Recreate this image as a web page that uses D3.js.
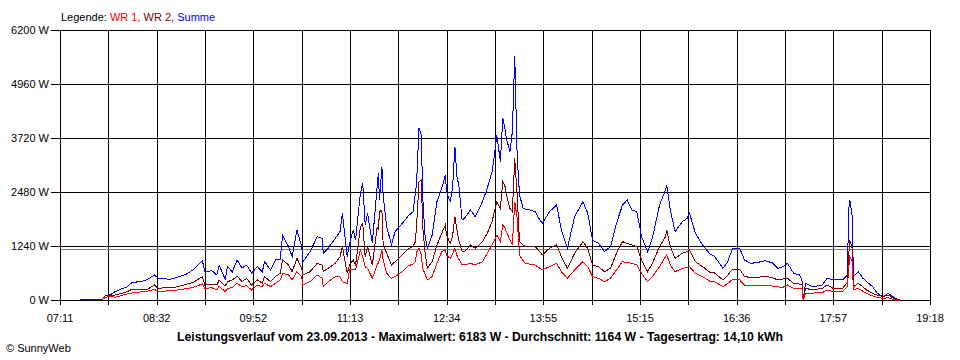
<!DOCTYPE html>
<html><head><meta charset="utf-8">
<script src="https://cdn.jsdelivr.net/npm/d3@7"></script>
<style>
body{margin:0;background:#fff}
svg{display:block}
text{font-family:"Liberation Sans",Arial,sans-serif;font-size:11px;fill:#000}
</style>
</head><body>
<svg id="c" width="960" height="360"></svg>
<script>
// ---- data ----
const times = [
"07:28","07:40","07:47","07:49","07:53","07:57","08:02","08:07","08:11","08:20",
"08:24","08:30","08:33","08:43","08:49","08:57","09:02","09:10","09:12","09:18",
"09:22","09:24","09:29","09:31","09:35","09:39","09:43","09:47","09:51","09:56",
"10:00","10:02","10:07","10:11","10:15","10:17","10:22","10:25","10:29","10:33",
"10:34","10:40","10:46","10:50","10:51","10:55","11:01","11:05","11:07","11:11",
"11:13","11:16","11:18","11:22","11:24","11:26","11:28","11:32","11:36","11:37",
"11:38","11:40","11:41","11:44","11:48","11:51","11:57","12:02","12:06","12:08",
"12:09","12:11","12:13","12:14","12:16","12:18","12:22","12:26","12:30","12:33",
"12:34","12:37","12:39","12:41","12:43","12:44","12:47","12:49","12:54","12:58",
"13:04","13:08","13:12","13:14","13:16","13:19","13:21","13:23","13:24","13:27",
"13:29","13:31","13:33","13:35","13:38","13:40","13:44","13:48","13:52","13:54",
"14:00","14:06","14:10","14:15","14:21","14:28","14:32","14:36","14:41","14:46",
"14:51","14:56","15:01","15:05","15:09","15:13","15:17","15:22","15:26","15:32",
"15:37","15:38","15:41","15:45","15:51","15:55","15:57","16:02","16:08","16:14",
"16:18","16:25","16:29","16:33","16:39","16:43","16:48","16:53","17:00","17:06",
"17:11","17:15","17:19","17:24","17:29","17:31","17:32","17:34","17:40","17:48",
"17:52","17:57","18:05","18:09","18:10","18:11","18:13","18:14","18:18","18:22",
"18:25","18:30","18:34","18:39","18:43","18:49","18:53"
];
const summe = [
15,20,20,110,120,190,250,300,400,430,
470,575,500,475,520,600,690,900,650,670,
575,800,480,765,650,920,735,800,620,765,
650,880,690,920,920,1490,1225,995,1607,1225,
880,1110,1455,1415,1070,1185,1415,1570,1990,995,
1300,1607,1378,2450,2680,1722,1990,1300,2600,2910,
2296,3060,2400,1683,1263,1570,1760,1930,2027,2450,
2716,3940,3790,2410,1490,1185,1490,2257,2565,2870,
2487,2257,2565,3520,2716,2716,1837,1875,2066,1913,
2257,2565,2946,3330,3790,3175,4170,3900,3710,3405,
3865,5600,3330,2410,2105,2080,2066,2027,1837,1760,
2027,2181,1607,1185,1913,2257,1990,1378,1300,1110,
1225,1760,2181,2296,2066,2027,1455,1110,1415,2181,
2526,2640,2066,1570,1798,1875,1990,1530,1263,1060,
1000,728,880,1185,1185,920,842,857,900,857,
728,765,842,613,575,460,0,383,306,344,
498,460,460,575,2066,2296,1913,536,650,498,
421,306,153,77,153,38,0
];
const wr2 = [
null,null,30,100,110,115,150,190,245,250,
245,344,268,291,300,367,400,536,344,360,
344,460,321,420,460,551,421,498,344,460,
383,536,421,536,613,920,804,650,957,728,
574,650,842,800,650,728,842,995,1225,613,
804,920,804,1683,1760,995,1225,804,1683,1600,
2027,2066,1300,1072,804,880,1033,1170,1225,1340,
1722,2716,2755,1722,1110,728,880,1263,1530,1722,
1490,1300,1455,1913,1570,1400,1110,1110,1263,1185,
1340,1530,1798,2027,2257,2105,2716,2600,2410,2105,
2027,3253,2410,1340,1263,1225,1225,1225,1110,1033,
1185,1263,995,728,1072,1340,1185,804,765,650,
728,1072,1340,1300,1263,1225,920,650,842,1225,
1455,1607,1225,957,1072,1110,1148,880,765,640,
620,460,574,705,705,536,520,513,551,513,
460,480,498,383,367,367,0,268,230,268,
344,268,268,400,1000,1378,1185,306,383,300,
230,153,110,77,115,15,0
];
const wr1 = [
null,null,20,60,90,61,100,138,160,190,
200,245,190,214,230,260,290,367,268,280,
230,321,190,260,291,383,306,330,230,344,
306,383,306,383,460,613,574,460,650,536,
344,421,574,500,306,421,536,536,421,383,
690,690,690,1148,995,765,728,498,804,850,
920,1148,920,613,498,536,650,780,830,880,
1100,1185,1033,728,600,460,536,842,1110,1148,
1033,957,1050,1185,1000,950,804,804,842,804,
880,1072,1263,1378,1490,1340,1722,1650,1570,1378,
1263,2257,1875,1033,900,842,820,804,728,690,
765,842,650,498,690,880,765,536,498,421,
498,690,880,860,842,804,613,421,536,765,
995,1033,804,650,728,750,765,613,536,430,
420,306,380,475,460,344,344,344,330,321,
300,291,344,268,268,268,0,153,160,168,
230,191,200,306,700,995,880,230,268,200,
153,92,60,38,50,0,0
];
const xTickLabels = ["07:11","08:32","09:52","11:13","12:34","13:55","15:15","16:36","17:57","19:18"];
const yTicks = [0,1240,2480,3720,4960,6200];
const average = 1164;
const legendParts = [["Legende: ","#000"],["WR 1, ","#ff0000"],["WR 2, ","#800000"],["Summe","#0000ff"]];
const titleText = "Leistungsverlauf vom 23.09.2013 - Maximalwert: 6183 W - Durchschnitt: 1164 W - Tagesertrag: 14,10 kWh";
const copyright = "\u00A9 SunnyWeb";

// ---- chart ----
const toMin = s => { const p = s.split(":").map(Number); return p[0]*60+p[1]; };
const t0 = toMin(xTickLabels[0]), t1 = toMin(xTickLabels[xTickLabels.length-1]);
const L = 60, R = 930, T = 30, B = 300;
const x = d3.scaleLinear().domain([t0, t1]).range([L, R]);
const y = d3.scaleLinear().domain([0, 6200]).range([B, T]);
const svg = d3.select("#c");
const px = v => Math.round(v) + 0.5;

const nGrid = (xTickLabels.length - 1) * 2;
const gridT = d3.range(nGrid + 1).map(i => t0 + i * (t1 - t0) / nGrid);

const g = svg.append("g").attr("shape-rendering", "crispEdges");
// vertical grid + ticks
g.selectAll("line.v").data(gridT).join("line")
  .attr("x1", d => px(x(d))).attr("x2", d => px(x(d)))
  .attr("y1", T).attr("y2", B + 5)
  .attr("stroke", "#000").attr("stroke-width", 1);
// horizontal grid + ticks
g.selectAll("line.h").data(yTicks).join("line")
  .attr("x1", L - 9).attr("x2", R + 1)
  .attr("y1", d => px(y(d))).attr("y2", d => px(y(d)))
  .attr("stroke", "#000").attr("stroke-width", 1);
// average line
g.append("line")
  .attr("x1", L + 1).attr("x2", R)
  .attr("y1", px(y(average))).attr("y2", px(y(average)))
  .attr("stroke", "#808080").attr("stroke-width", 1);

// series
const series = [
  {vals: summe, color: "#0000ff"},
  {vals: wr2, color: "#800000"},
  {vals: wr1, color: "#ff0000"}
];
const line = d3.line()
  .defined(d => d.v != null)
  .x(d => x(toMin(d.t)))
  .y(d => y(d.v));
series.forEach(s => {
  const data = times.map((t, i) => ({t, v: s.vals[i]}));
  svg.append("path").attr("d", line(data))
    .attr("fill", "none").attr("stroke", s.color).attr("stroke-width", 1)
    .attr("shape-rendering", "crispEdges");
});

// y labels
svg.selectAll("text.yl").data(yTicks).join("text")
  .attr("x", L - 11).attr("y", d => y(d) + 4)
  .attr("text-anchor", "end")
  .text(d => d + " W");
// x labels
svg.selectAll("text.xl").data(xTickLabels).join("text")
  .attr("x", (d, i) => x(gridT[i * 2]))
  .attr("y", 322)
  .attr("text-anchor", "middle")
  .text(d => d);

// legend
const leg = svg.append("text").attr("x", 61).attr("y", 21);
legendParts.forEach(p => leg.append("tspan").attr("fill", p[1]).style("fill", p[1]).text(p[0]));

// title
svg.append("text").attr("x", 480).attr("y", 341)
  .attr("text-anchor", "middle")
  .style("font-weight", "bold").style("font-size", "12px")
  .attr("textLength", 606).attr("lengthAdjust", "spacingAndGlyphs")
  .text(titleText);

// copyright
svg.append("text").attr("x", 6).attr("y", 352).text(copyright);
</script>
</body></html>
